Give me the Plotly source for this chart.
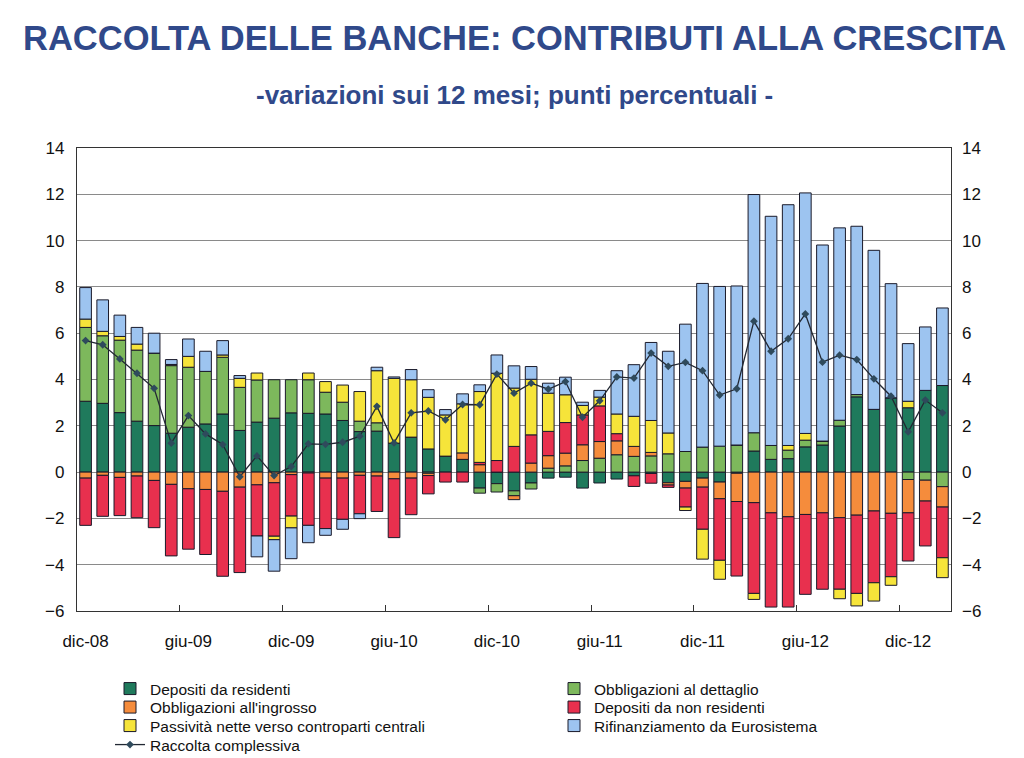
import plotly.graph_objects as go

months = ["gen", "feb", "mar", "apr", "mag", "giu", "lug", "ago", "set", "ott", "nov", "dic"]
categories = ["dic-08"] + [f"{m}-{y:02d}" for y in range(9, 14) for m in months][:50]

dep_res = [3.06, 2.97, 2.57, 2.20, 2.01, 1.68, 1.94, 2.08, 2.51, 1.80, 2.16, 2.33, 2.56,
           2.54, 2.51, 2.23, 1.75, 1.77, 1.25, 1.51, 1.00, 0.69, 0.55, -0.69, -0.50,
           -0.81, -0.47, -0.26, -0.22, -0.69, -0.47, -0.30, -0.16, -0.06, -0.46, -0.40, -0.26,
           -0.43, -0.05, 0.91, 0.55, 0.58, 1.09, 1.17, 1.99, 3.25, 2.71, 3.21, 2.78,
           3.53, 3.74]
obbl_dett = [3.19, 2.92, 3.13, 3.07, 3.13, 2.92, 2.59, 2.27, 2.45, 1.86, 1.82, 1.66, 1.43,
             1.45, 0.94, 0.79, 0.45, 0.36, 0.00, 0.00, -0.05, 0.00, 0.00, -0.22, -0.36,
             -0.21, -0.26, 0.17, 0.27, 0.50, 0.60, 0.75, 0.68, 0.70, 0.79, 0.89, 1.08,
             1.12, 1.17, 0.79, 0.60, 0.37, 0.29, 0.17, 0.25, 0.10, 0.00, 0.00, -0.32,
             -0.35, -0.63]
obbl_ingr = [-0.26, -0.14, -0.23, -0.17, -0.36, -0.53, -0.72, -0.75, -0.83, -0.65, -0.55, -0.46, -0.11,
             -0.04, -0.26, -0.26, -0.14, -0.17, -0.29, -0.26, -0.10, 0.00, 0.28, 0.32, 0.00,
             -0.17, 0.39, 0.54, 0.55, 0.68, 0.72, 0.60, 0.43, 0.15, -0.10, -0.29, -0.39,
             -0.72, -1.22, -1.32, -1.76, -1.93, -1.83, -1.76, -1.97, -1.86, -1.68, -1.78, -1.44,
             -0.90, -0.88]
dep_nonres = [-2.04, -1.77, -1.65, -1.80, -2.04, -3.09, -2.61, -2.81, -3.67, -3.69, -2.21, -2.31, -1.79,
              -2.26, -2.18, -1.78, -1.66, -1.53, -2.54, -1.58, -0.79, -0.43, -0.43, 0.10, 0.50,
              1.11, 1.22, 1.05, 1.32, 1.29, 1.54, 0.31, -0.46, -0.42, -0.10, -0.82, -1.82,
              -2.66, -3.22, -3.92, -4.07, -3.90, -3.45, -3.30, -3.09, -3.38, -3.10, -2.74, -2.08,
              -1.94, -2.19]
passivita = [0.36, 0.19, 0.16, 0.26, 0.00, 0.05, 0.47, 0.00, 0.10, 0.39, 0.30, -0.15, -0.51,
             0.29, 0.46, 0.74, 1.28, 2.25, 2.80, 2.48, 2.23, 1.78, 2.12, 3.06, 3.77,
             2.52, 2.40, 1.65, 1.20, 0.41, 0.38, 0.85, 1.30, 1.38, 0.90, -0.15, -1.29,
             -0.82, 0.00, -0.26, 0.00, 0.20, 0.29, 0.00, -0.41, -0.54, -0.79, -0.37, 0.28,
             0.00, -0.86]
rifin = [1.36, 1.36, 0.92, 0.72, 0.86, 0.21, 0.75, 0.87, 0.62, 0.12, -0.90, -1.36, -1.33,
         -0.75, -0.29, -0.43, -0.21, 0.15, 0.06, 0.44, 0.33, 0.23, 0.43, 0.29, 0.79,
         0.96, 0.55, 0.43, 0.76, 0.14, 0.29, 1.87, 2.23, 3.37, 3.53, 5.50, 7.07,
         6.90, 6.87, 10.29, 9.90, 10.40, 10.39, 8.47, 8.31, 7.27, 6.87, 4.93, 2.49,
         2.74, 3.35]
raccolta = [5.68, 5.50, 4.89, 4.27, 3.62, 1.25, 2.44, 1.65, 1.19, -0.20, 0.70, -0.15, 0.24,
            1.22, 1.20, 1.29, 1.55, 2.84, 1.26, 2.56, 2.64, 2.26, 2.92, 2.91, 4.23,
            3.41, 3.84, 3.58, 3.91, 2.37, 3.08, 4.11, 4.06, 5.14, 4.57, 4.74, 4.38,
            3.33, 3.60, 6.52, 5.22, 5.76, 6.83, 4.75, 5.05, 4.86, 4.03, 3.28, 1.74,
            3.11, 2.56]

y_ticks = [-6, -4, -2, 0, 2, 4, 6, 8, 10, 12, 14]
x_label_every = 6

series_names = ["Depositi da residenti", "Obbligazioni al dettaglio", "Obbligazioni all'ingrosso",
                "Depositi da non residenti", "Passività nette verso controparti centrali",
                "Rifinanziamento da Eurosistema"]
series_values = [dep_res, obbl_dett, obbl_ingr, dep_nonres, passivita, rifin]
series_colors = ["#1F7A5C", "#7DB85C", "#F58C3C", "#E8304E", "#F6E43A", "#9DC4F0"]
line_name = "Raccolta complessiva"

W, H = 1024, 758
M_L, M_R, M_T, M_B = 77, 73, 148, 147
plot_w = W - M_L - M_R
plot_h = H - M_T - M_B

# legend grid layout: two columns, rows at given pixel centres (row-major order)
leg_cols_px = [110, 554]
leg_rows_px = [689, 707.5, 726, 745]

xs = list(range(len(categories)))
fig = go.Figure()
legfont = dict(family="Arial, Liberation Sans, sans-serif", size=15.5, color="#111111")
legends = {}
for k, (name, vals, col) in enumerate(zip(series_names, series_values, series_colors)):
    lid = "legend" if k == 0 else f"legend{k + 1}"
    fig.add_trace(go.Bar(x=xs, y=vals, name=name, legend=lid,
                         marker=dict(color=col, line=dict(color="#1a1a2a", width=1)),
                         width=0.68))
    legends[lid] = (leg_cols_px[k % 2], leg_rows_px[k // 2])
k = len(series_names)
lid = f"legend{k + 1}"
fig.add_trace(go.Scatter(x=xs, y=raccolta, name=line_name, mode="lines+markers", legend=lid,
                         line=dict(color="#222833", width=1.3),
                         marker=dict(symbol="diamond", size=6, color="#2F4A5C")))
legends[lid] = (leg_cols_px[k % 2], leg_rows_px[k // 2])

# invisible trace to activate right axis and boundary-tick overlay
fig.add_trace(go.Scatter(x=xs, y=raccolta, yaxis="y2", xaxis="x2", mode="lines", line=dict(width=0),
                         showlegend=False, hoverinfo="skip", opacity=0))

tickvals = xs[::x_label_every]
ticktext = [categories[i] for i in tickvals]
boundaries = [i + 0.5 for i in xs[x_label_every - 1::x_label_every]]


def px_x(px):
    return (px - M_L) / plot_w


def px_y(py):
    return (H - M_B - py) / plot_h


fnt = dict(family="Arial, Liberation Sans, sans-serif", size=17, color="#111111")
layout_legends = {}
for lid, (lx, ly) in legends.items():
    layout_legends[lid] = dict(orientation="v", x=px_x(lx), xref="paper", y=1 - ly / H, yref="container",
                               xanchor="left", yanchor="middle", font=legfont, itemwidth=30,
                               bgcolor="rgba(0,0,0,0)")

fig.update_layout(
    barmode="relative",
    width=W, height=H,
    margin=dict(l=M_L, r=M_R, t=M_T, b=M_B),
    paper_bgcolor="white", plot_bgcolor="white",
    font=fnt,
    xaxis=dict(range=[-0.5, len(xs) - 0.5], tickvals=tickvals, ticktext=ticktext, ticks="",
               showgrid=False, showline=True, linecolor="#333333", linewidth=1.2, mirror=True,
               zeroline=False, tickfont=fnt, ticklabelstandoff=14),
    xaxis2=dict(range=[-0.5, len(xs) - 0.5], overlaying="x", tickvals=boundaries, ticks="inside",
                ticklen=6, tickcolor="#333333", showticklabels=False, showgrid=False, zeroline=False,
                showline=False),
    yaxis=dict(range=[-6, 14], tickvals=y_ticks, showgrid=True, gridcolor="#8a8a8a", gridwidth=1,
               zeroline=True, zerolinecolor="#8a8a8a", zerolinewidth=1,
               showline=True, linecolor="#333333", linewidth=1.2, mirror=True, ticks="",
               ticklabelstandoff=8, tickfont=fnt),
    yaxis2=dict(range=[-6, 14], tickvals=y_ticks, overlaying="y", side="right", showgrid=False,
                zeroline=False, ticks="", ticklabelstandoff=10, tickfont=fnt),
    annotations=[
        dict(text="<b>RACCOLTA DELLE BANCHE: CONTRIBUTI ALLA CRESCITA</b>", x=0.5, y=px_y(38),
             xref="paper", yref="paper", showarrow=False, xanchor="center", yanchor="middle",
             font=dict(family="Arial, Liberation Sans, sans-serif", size=34.5, color="#30498A")),
        dict(text="<b>-variazioni sui 12 mesi; punti percentuali -</b>", x=0.5, y=px_y(95),
             xref="paper", yref="paper", showarrow=False, xanchor="center", yanchor="middle",
             font=dict(family="Arial, Liberation Sans, sans-serif", size=26, color="#30498A")),
    ],
    **layout_legends,
)

fig.write_html("out.html")
